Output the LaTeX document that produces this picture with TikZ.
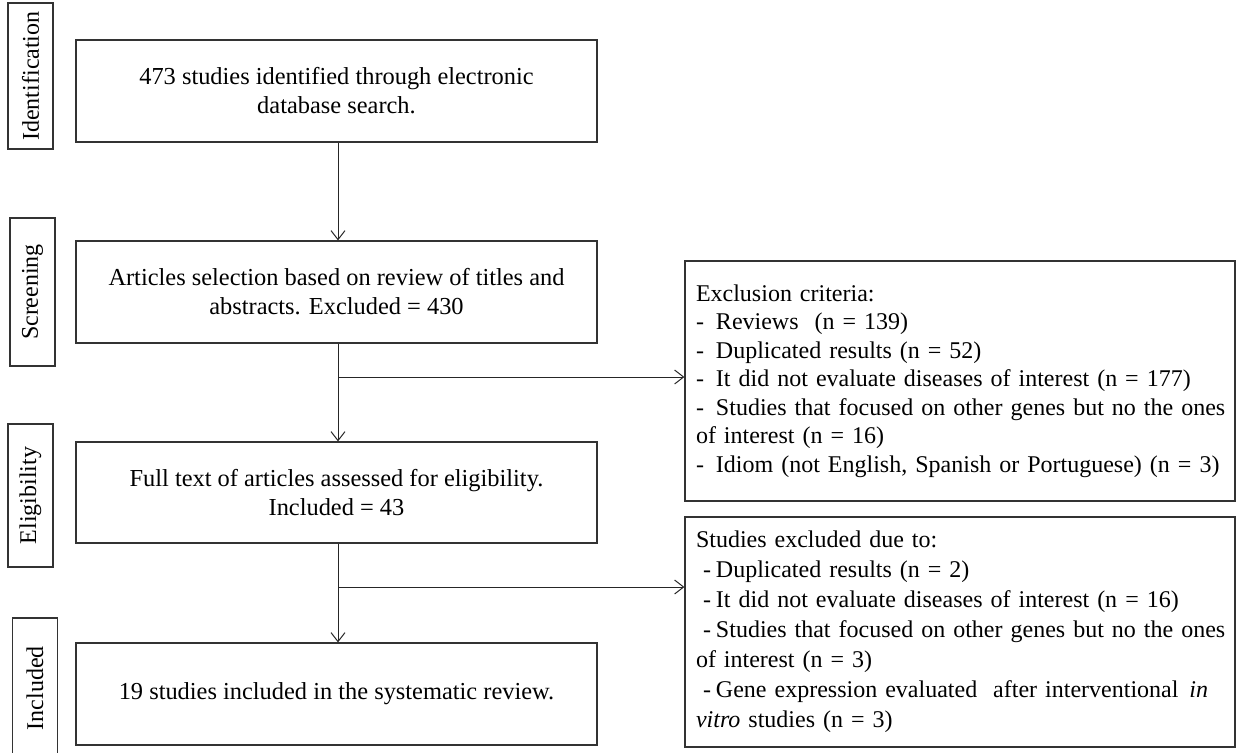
\documentclass[tikz,border=0pt]{standalone}
\usepackage{fontspec}
\setmainfont{Liberation Serif}
\usetikzlibrary{arrows.meta}
\begin{document}
\begin{tikzpicture}[x=0.5pt,y=-0.5pt,
  box/.style={draw=black!80,line width=0.6pt,minimum width=260.5pt,minimum height=51pt,align=center,inner sep=0pt,font=\fontsize{12.2}{14.5}\selectfont},
  lab/.style={draw=black!80,line width=0.6pt,rotate=90,minimum height=22.5pt,inner sep=0pt,font=\fontsize{12}{14}\selectfont},
  side/.style={draw=black!80,line width=0.6pt,minimum width=275pt,text width=264pt,inner xsep=5.5pt,align=left},
  arr/.style={draw=black!85,line width=0.5pt,-{Straight Barb[length=4.5pt,width=7pt,line width=0.5pt]}},
  ln/.style={draw=black!85,line width=0.5pt}]
\useasboundingbox (0,0) rectangle (1237,752);
\clip (0,0) rectangle (1237,752);
% stage labels
\node[lab,minimum width=73pt] (lid) at (30.5,76) {Identification};
\node[lab,minimum width=74pt] (lsc) at (32.5,292) {Screening};
\node[lab,minimum width=71.5pt] (lel) at (30.5,495.5) {Eligibility};
\node[lab,minimum width=70pt] (lin) at (35,688) {Included};
% main boxes
\node[box] (b1) at (336.5,91) {473 studies identified through electronic\\database search.};
\node[box] (b2) at (336.5,292) {Articles selection based on review of titles and\\abstracts. Excluded = 430};
\node[box,minimum height=50.5pt] (b3) at (336.5,492.5) {Full text of articles assessed for eligibility.\\Included = 43};
\node[box] (b4) at (336.5,694) {19 studies included in the systematic review.};
% side boxes
\node[side,minimum height=120pt,font=\fontsize{12}{14.25}\selectfont] (r1) at (960,381) {Exclusion criteria:\\
\makebox[10pt][l]{-}Reviews\ \ (n = 139)\\
\makebox[10pt][l]{-}Duplicated results (n = 52)\\
\makebox[10pt][l]{-}It did not evaluate\ diseases of interest (n = 177)\\
\makebox[\linewidth][s]{\makebox[10pt][l]{-}Studies that focused on other genes but no the ones}\\
of interest (n = 16)\\
\makebox[10pt][l]{-}Idiom (not English,\ Spanish or Portuguese) (n = 3)};
\node[side,minimum height=115pt,font=\fontsize{12}{15}\selectfont] (r2) at (960,632) {Studies excluded due to:\\
\hspace*{3.5pt}\makebox[6.5pt][l]{-}Duplicated\ results (n = 2)\\
\hspace*{3.5pt}\makebox[6.5pt][l]{-}It did not evaluate\ diseases of interest (n = 16)\\
\makebox[\linewidth][s]{\hspace*{3.5pt}\makebox[6.5pt][l]{-}Studies that focused on other genes but no the ones}\\
of interest\ (n = 3)\\
\makebox[\linewidth][s]{\hspace*{3.5pt}\makebox[6.5pt][l]{-}Gene expression evaluated\ \ after interventional\hfill\textit{in}\hspace*{8pt}}\\
\textit{vitro} studies (n = 3)};
% connectors
\coordinate (j1) at (338,377);
\coordinate (j2) at (338,587);
\draw[arr] (b1.south -| j1) -- (b2.north -| j1);
\draw[arr] (b2.south -| j1) -- (b3.north -| j1);
\draw[arr] (b3.south -| j2) -- (b4.north -| j2);
\draw[arr] (j1) -- (j1 -| r1.west);
\draw[arr] (j2) -- (j2 -| r2.west);
\end{tikzpicture}
\end{document}
